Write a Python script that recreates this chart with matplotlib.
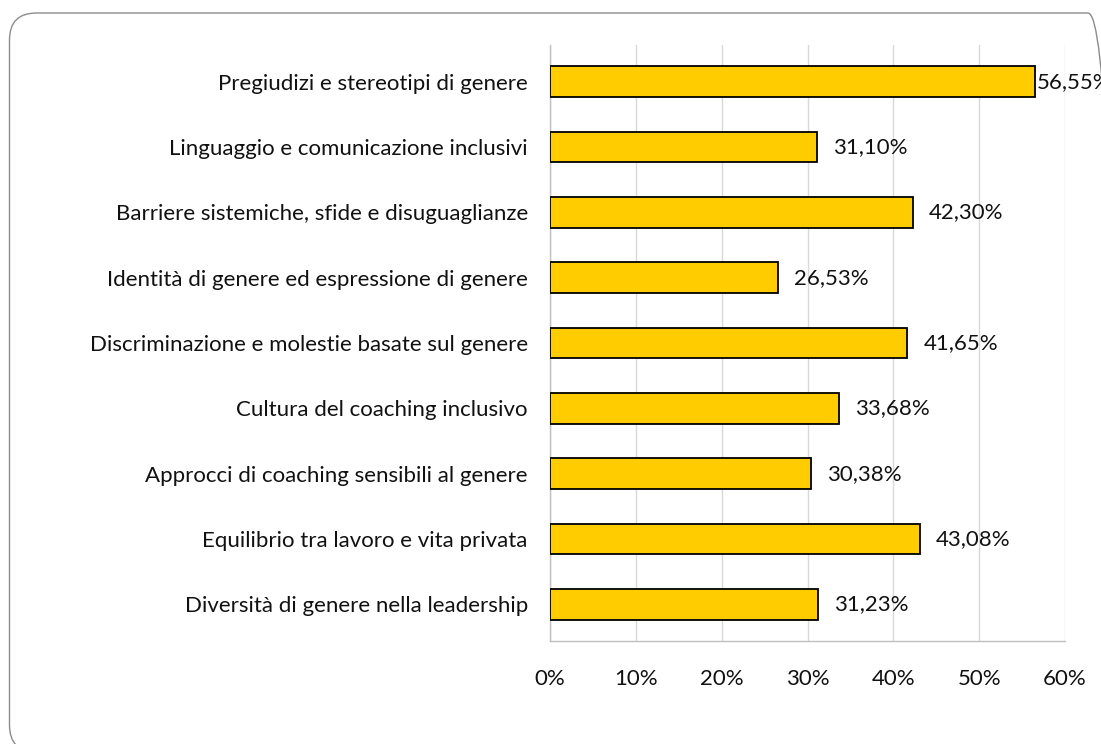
import matplotlib
matplotlib.use("Agg")
import matplotlib.pyplot as plt
from matplotlib.patches import FancyBboxPatch
from matplotlib.ticker import FuncFormatter, MultipleLocator

categories = [
    "Pregiudizi e stereotipi di genere",
    "Linguaggio e comunicazione inclusivi",
    "Barriere sistemiche, sfide e disuguaglianze",
    "Identità di genere ed espressione di genere",
    "Discriminazione e molestie basate sul genere",
    "Cultura del coaching inclusivo",
    "Approcci di coaching sensibili al genere",
    "Equilibrio tra lavoro e vita privata",
    "Diversità di genere nella leadership",
]
values = [56.55, 31.10, 42.30, 26.53, 41.65, 33.68, 30.38, 43.08, 31.23]

plt.rcParams["font.family"] = ["Lato", "DejaVu Sans"]

W, H = 1101, 744
fig = plt.figure(figsize=(W / 100, H / 100), dpi=100)

# rounded frame around the chart area (inches, so the corners stay circular)
frame = FancyBboxPatch(
    (0.095, -0.08), 11.15 - 0.095, 7.31 + 0.08,
    boxstyle="round,pad=0,rounding_size=0.27",
    transform=fig.dpi_scale_trans, facecolor="none", edgecolor="#8c8c8c",
    linewidth=1.0, clip_on=False,
)
fig.patches.append(frame)

ax = fig.add_axes([550 / W, 1 - 641 / H, (1065 - 550) / W, (641 - 45) / H])
ypos = list(range(len(categories)))
bars = ax.barh(ypos, values, height=0.47, color="#FFCC00",
               edgecolor="black", linewidth=1.3, zorder=3)

ax.set_xlim(0, 60)
ax.set_ylim(len(categories) - 0.44, -0.56)
ax.xaxis.set_major_locator(MultipleLocator(10))
ax.xaxis.set_major_formatter(FuncFormatter(lambda v, _: f"{v:.0f}%"))
ax.set_yticks(ypos)
ax.set_yticklabels(categories)
ax.tick_params(axis="y", length=0, pad=16, labelsize=16, colors="#111111")
ax.tick_params(axis="x", length=0, pad=20, labelsize=16, colors="#111111")

ax.grid(axis="x", color="#d9d9d9", linewidth=1.0, zorder=0)
for side in ("top", "right"):
    ax.spines[side].set_visible(False)
for side in ("left", "bottom"):
    ax.spines[side].set_color("#bfbfbf")
    ax.spines[side].set_linewidth(1.0)

for bar, v in zip(bars, values):
    label = f"{v:.2f}%".replace(".", ",")
    offset = 1 if v > 55 else 16
    ax.annotate(label, (bar.get_width(), bar.get_y() + bar.get_height() / 2),
                xytext=(offset, 0), textcoords="offset pixels",
                va="center", ha="left", fontsize=16, color="#111111",
                annotation_clip=False, zorder=4)

fig.savefig("out.png", dpi=100)
